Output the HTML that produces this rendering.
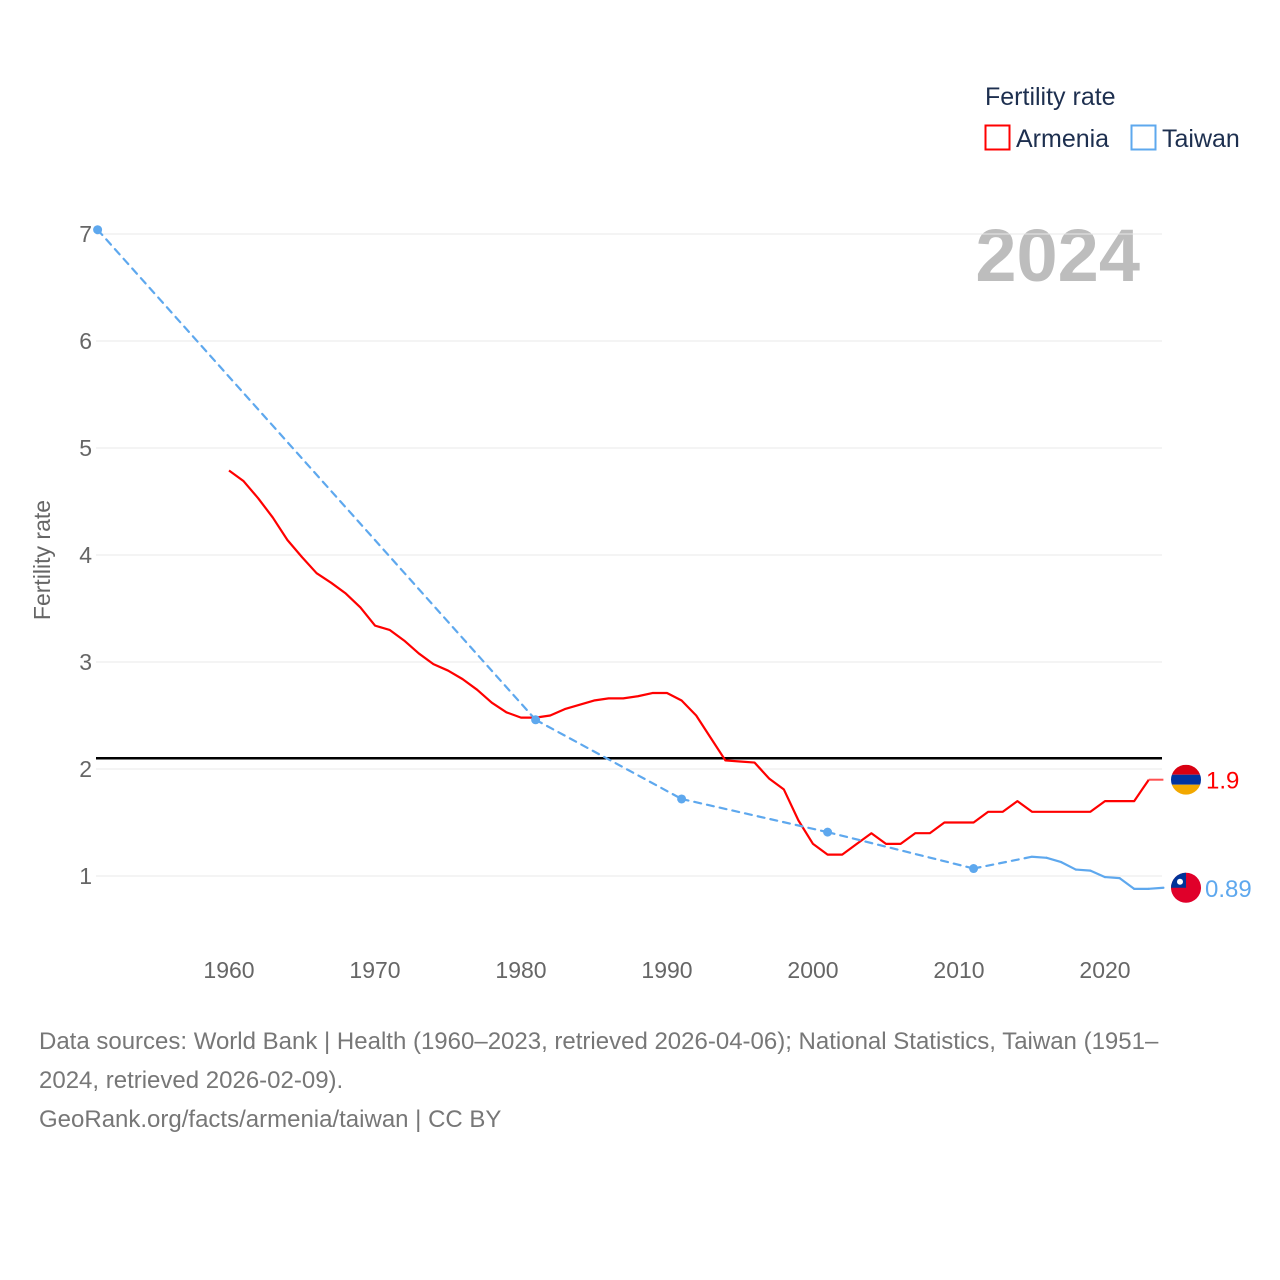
<!DOCTYPE html>
<html><head><meta charset="utf-8"><style>
html,body{margin:0;padding:0;background:#fff;}
body{width:1280px;height:1280px;position:relative;font-family:"Liberation Sans",sans-serif;overflow:hidden}
svg text{font-family:"Liberation Sans",sans-serif}
.src{position:absolute;left:39px;top:1022px;width:1240px;font-size:24px;line-height:39px;color:#777;white-space:nowrap}
</style></head><body>
<svg id="chart" width="1280" height="1280" style="position:absolute;left:0;top:0">
<text x="985" y="105" font-size="25" fill="#1d2f4f">Fertility rate</text>
<g><rect x="985.5" y="125.5" width="24" height="24" fill="none" stroke="#f00" stroke-width="2"/><text x="1016" y="147" font-size="25" fill="#1d2f4f">Armenia</text></g>
<g><rect x="1131.5" y="125.5" width="24" height="24" fill="none" stroke="#5ea8ee" stroke-width="2"/><text x="1162" y="147" font-size="25" fill="#1d2f4f">Taiwan</text></g>
<text x="1140" y="281" font-size="74" font-weight="bold" fill="#bdbdbd" text-anchor="end">2024</text>
<text transform="translate(50,560) rotate(-90)" font-size="23" fill="#666" text-anchor="middle">Fertility rate</text>
<g id="grid"></g><g id="marks"></g>
</svg>
<div class="src">Data sources: World Bank | Health (1960–2023, retrieved 2026-04-06); National Statistics, Taiwan (1951–<br>2024, retrieved 2026-02-09).<br>GeoRank.org/facts/armenia/taiwan | CC BY</div>
<script>
const yTicks=[1,2,3,4,5,6,7];
const xTicks=[1960,1970,1980,1990,2000,2010,2020];
const armeniaYears=[1960,1961,1962,1963,1964,1965,1966,1967,1968,1969,1970,1971,1972,1973,1974,1975,1976,1977,1978,1979,1980,1981,1982,1983,1984,1985,1986,1987,1988,1989,1990,1991,1992,1993,1994,1995,1996,1997,1998,1999,2000,2001,2002,2003,2004,2005,2006,2007,2008,2009,2010,2011,2012,2013,2014,2015,2016,2017,2018,2019,2020,2021,2022,2023];
const armeniaValues=[4.79,4.69,4.53,4.35,4.14,3.98,3.83,3.74,3.64,3.51,3.34,3.3,3.2,3.08,2.98,2.92,2.84,2.74,2.62,2.53,2.48,2.48,2.5,2.56,2.6,2.64,2.66,2.66,2.68,2.71,2.71,2.64,2.5,2.29,2.08,2.07,2.06,1.91,1.81,1.52,1.3,1.2,1.2,1.3,1.4,1.3,1.3,1.4,1.4,1.5,1.5,1.5,1.6,1.6,1.7,1.6,1.6,1.6,1.6,1.6,1.7,1.7,1.7,1.9];
const armeniaLatest=[2024,1.9];
const taiwanYears=[1951,1981,1991,2001,2011,2015,2016,2017,2018,2019,2020,2021,2022,2023,2024];
const taiwanValues=[7.04,2.46,1.72,1.41,1.07,1.18,1.17,1.13,1.06,1.05,0.99,0.98,0.88,0.88,0.89];
const threshold=2.1;

const X=y=>229+(y-1960)*14.6, Y=v=>876-(v-1)*107;
const NS="http://www.w3.org/2000/svg";
function mk(tag,attrs,parent){const e=document.createElementNS(NS,tag);for(const k in attrs)e.setAttribute(k,attrs[k]);parent.appendChild(e);return e;}
const grid=document.getElementById('grid'), marks=document.getElementById('marks');
yTicks.forEach(t=>{
 const l=mk('line',{x1:96,x2:1162,y1:Y(t),y2:Y(t),stroke:'#e8e8e8','stroke-width':1},grid);
 
 
 const tx=mk('text',{x:92,y:Y(t)+8,'font-size':23,fill:'#666','text-anchor':'end'},grid);tx.textContent=t;
 
 
});
xTicks.forEach(t=>{
 const tx=mk('text',{x:X(t),y:978,'font-size':23,fill:'#666','text-anchor':'middle'},grid);tx.textContent=t;
 
 
});
const th=mk('line',{x1:96,x2:1162,y1:Y(threshold),y2:Y(threshold),stroke:'#000','stroke-width':2.5},marks);


const ap=mk('polyline',{points:armeniaYears.map((y,i)=>X(y)+','+Y(armeniaValues[i])).join(' '),fill:'none',stroke:'#f00','stroke-width':2.2,'stroke-linejoin':'round'},marks);


const al=armeniaYears.length-1;
const ae=mk('line',{x1:X(armeniaYears[al]),y1:Y(armeniaValues[al]),x2:X(armeniaLatest[0]),y2:Y(armeniaLatest[1]),stroke:'#ff5050','stroke-width':2},marks);


for(let i=0;i<taiwanYears.length-1;i++){
 const gap=taiwanYears[i+1]-taiwanYears[i]>1;
 const s=mk('line',{x1:X(taiwanYears[i]),y1:Y(taiwanValues[i]),x2:X(taiwanYears[i+1]),y2:Y(taiwanValues[i+1]),stroke:'#5ea8ee','stroke-width':2.2,'stroke-dasharray':gap?'7,6':'none','stroke-linecap':'round'},marks);
 
 
}
taiwanYears.forEach((y,i)=>{
 const prev=i>0?y-taiwanYears[i-1]:99, next=i<taiwanYears.length-1?taiwanYears[i+1]-y:99;
 if(prev>1&&next>1){const c=mk('circle',{cx:X(y),cy:Y(taiwanValues[i]),r:4.5,fill:'#5ea8ee'},marks);
 
 }
});
const fx=1186;
const ay=Y(armeniaLatest[1]);
const af=mk('g',{},marks);


mk('clipPath',{id:'ca'},af).appendChild(document.createElementNS(NS,'circle'));
const cca=af.querySelector('clipPath circle');cca.setAttribute('cx',fx);cca.setAttribute('cy',ay);cca.setAttribute('r',15);
const ag=mk('g',{'clip-path':'url(#ca)'},af);
mk('rect',{x:fx-15,y:ay-15,width:30,height:10,fill:'#d90012'},ag);
mk('rect',{x:fx-15,y:ay-5,width:30,height:10,fill:'#0033a0'},ag);
mk('rect',{x:fx-15,y:ay+5,width:30,height:10,fill:'#f2a800'},ag);
const at=mk('text',{x:1206,y:ay+9,'font-size':24,fill:'#f00'},marks);at.textContent=armeniaLatest[1];


const tl=taiwanValues.length-1, ty=Y(taiwanValues[tl]);
const tf=mk('g',{},marks);


mk('circle',{cx:fx,cy:ty,r:15,fill:'#e0002a'},tf);
mk('path',{d:`M${fx-15} ${ty} A15 15 0 0 1 ${fx} ${ty-15} L${fx} ${ty} Z`,fill:'#003399'},tf);
mk('circle',{cx:fx-6,cy:ty-6,r:3,fill:'#fff'},tf);
const tt=mk('text',{x:1205,y:ty+9,'font-size':24,fill:'#5ea8ee'},marks);tt.textContent=taiwanValues[tl];


</script>
</body></html>
